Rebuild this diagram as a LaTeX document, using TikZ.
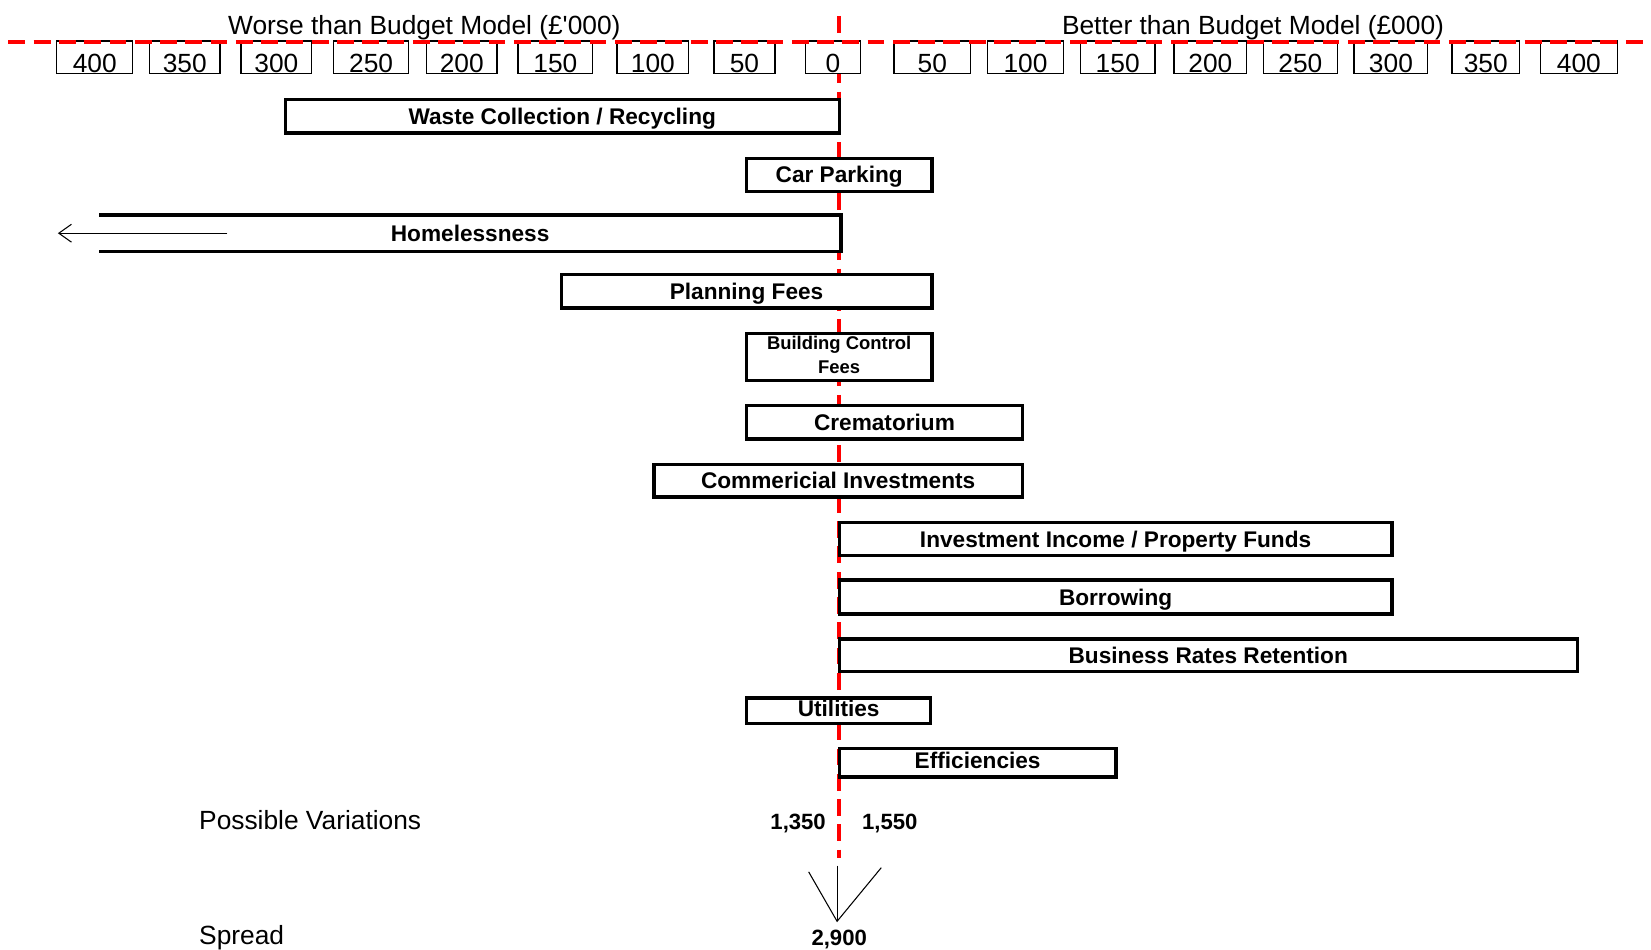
\documentclass[tikz,border=0pt]{standalone}
\usepackage{fontspec}
\setmainfont{Liberation Sans}
\usetikzlibrary{arrows.meta}

\begin{document}
\begin{tikzpicture}[x=1pt, y=-1pt,
    box/.style={draw, line width=3.2pt, fill=white, inner sep=0pt},
    bar/.style={box, minimum height=31.5, font=\bfseries\fontsize{21.5}{24}\selectfont, text height=15.5pt, text depth=0pt},
    tick/.style={draw, line width=1.2pt, fill=white, inner sep=0pt, minimum height=31, font=\fontsize{25}{28}\selectfont, text height=29pt, text depth=0pt},
    head/.style={inner sep=0pt, font=\fontsize{25}{28}\selectfont, text height=18pt, text depth=0pt},
    total/.style={inner sep=0pt, font=\bfseries\fontsize{21}{24}\selectfont, text height=15pt, text depth=0pt},
    guide/.style={red, line width=4pt, dash pattern=on 16pt off 8pt}]
      \useasboundingbox (0,0) rectangle (1568,902);

      % Eixo zero
      \coordinate (axtop) at (797,15);
      \coordinate (axbot) at (797,815);
      \draw[guide] (axtop) -- (axbot);

      % Escala
      \node[head] (worse) at (403,24) {Worse than Budget Model (£\textquotesingle 000)};
      \node[head] (better) at (1190,24) {Better than Budget Model (£000)};
      \foreach \l/\r/\t [count=\i] in {54/126/400, 142/209/350, 229/296/300, 317/388/250,
          405/472/200, 492/563/150, 586/654/100, 678/736/50, 765/817/0,
          849/922/50, 938/1010/100, 1026/1097/150, 1115/1184/200, 1200/1270/250,
          1286/1356/300, 1379/1443/350, 1463/1536/400} {
        \pgfmathsetmacro\w{\r-\l}
        \pgfmathsetmacro\c{(\l+\r)/2}
        \node[tick, minimum width=\w] (tick\i) at (\c,54.5) {\t};
      }
      \coordinate (scaleleft) at (8,40);
      \coordinate (scaleright) at (1568,40);
      \draw[guide] (scaleleft) -- (scaleright);

      % Barras
      \node[bar, minimum width=526] (waste) at (534,110.5) {Waste Collection / Recycling};
      \node[bar, minimum width=176] (carpark) at (797,166) {Car Parking};
      \node[bar, draw=none, minimum width=701] (home) at (446.5,221.5) {Homelessness};
      \draw[line width=3.2pt] (home.north west) -- (home.north east) -- (home.south east) -- (home.south west);
      \coordinate (hometail) at (216,221.5);
      \coordinate (hometip) at (55,221.5);
      \draw[-{Straight Barb[length=12pt,width=17pt]}, line width=1pt] (hometail) -- (hometip);
      \node[bar, minimum width=352, minimum height=32] (planning) at (709,276.5) {Planning Fees};
      \node[box, minimum width=176, minimum height=45, font=\bfseries\fontsize{17.5}{22.5}\selectfont] (bcf) at (797,339)
        {\begin{tabular}{@{}c@{}}Building Control\\Fees\end{tabular}};
      \node[bar, minimum width=262, minimum height=32] (crem) at (840,401) {Crematorium};
      \node[bar, minimum width=350, minimum height=31] (comm) at (796,456.5) {Commericial Investments};
      \node[bar, minimum width=525] (invest) at (1059.5,512) {Investment Income / Property Funds};
      \node[bar, minimum width=525, minimum height=32] (borrow) at (1059.5,567) {Borrowing};
      \node[bar, minimum width=701, minimum height=31] (rates) at (1147.5,622.5) {Business Rates Retention};
      \node[bar, minimum width=175, minimum height=24, text depth=5pt] (util) at (796.5,675) {Utilities};
      \node[bar, minimum width=263, minimum height=27, text depth=5pt] (eff) at (928.5,724.5) {Efficiencies};

      % Totais
      \node[head, anchor=west] (possible) at (189,779) {Possible Variations};
      \node[total] (worsetotal) at (758,780) {1,350};
      \node[total] (bettertotal) at (845,780) {1,550};
      \coordinate (vtip) at (795,875);
      \coordinate (vleft) at (768,828);
      \coordinate (vmid) at (795,822);
      \coordinate (vright) at (837,824);
      \draw[line width=1pt] (vleft) -- (vtip) -- (vright);
      \draw[line width=1pt] (vmid) -- (vtip);
      \node[head, anchor=west] (spread) at (189,888) {Spread};
      \node[total] (spreadtotal) at (797,890) {2,900};
\end{tikzpicture}
\end{document}
